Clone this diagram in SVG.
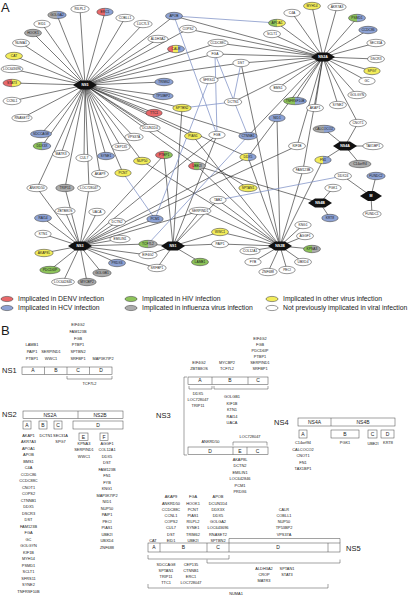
<svg xmlns="http://www.w3.org/2000/svg" width="409" height="596" viewBox="0 0 409 596">
<style>
text{font-family:"Liberation Sans",Arial,sans-serif;fill:#1a1a1a}
.e line{stroke:#1e1e1e;stroke-width:.6}
.e line.u{stroke:#7d90c6;stroke-width:.75}
.n ellipse{stroke:#333;stroke-width:.5}
.n text{font-size:3.3px;text-anchor:middle}
.h polygon{fill:#111}
.h text{font-size:3.6px;font-weight:bold;fill:#fff;text-anchor:middle}
.w{fill:#fff}.r{fill:#e8686a}.b{fill:#8da2d4}.g{fill:#8dc35a}.k{fill:#ababab}.y{fill:#f2ec5b}
.lg ellipse{stroke:#333;stroke-width:.5}
.lg text{font-size:6.8px}
.bx rect{fill:#fff;stroke:#444;stroke-width:.5}
.bx path{fill:none;stroke:#444;stroke-width:.5}
.bl{font-size:5px;text-anchor:middle}
.ns{font-size:7.5px}
.li{font-size:3.9px;text-anchor:middle}
.big{font-size:13px}
</style>
<defs>
<linearGradient id="g-kb"><stop offset=".5" stop-color="#ababab"/><stop offset=".5" stop-color="#8da2d4"/></linearGradient>
<linearGradient id="g-rb"><stop offset=".5" stop-color="#e8686a"/><stop offset=".5" stop-color="#8da2d4"/></linearGradient>
<linearGradient id="g-ry"><stop offset=".5" stop-color="#e8686a"/><stop offset=".5" stop-color="#f2ec5b"/></linearGradient>
<linearGradient id="g-gb"><stop offset=".5" stop-color="#8dc35a"/><stop offset=".5" stop-color="#8da2d4"/></linearGradient>
<linearGradient id="g-gy"><stop offset=".5" stop-color="#8dc35a"/><stop offset=".5" stop-color="#f2ec5b"/></linearGradient>
<linearGradient id="g-rg"><stop offset=".5" stop-color="#e8686a"/><stop offset=".5" stop-color="#8dc35a"/></linearGradient>
<linearGradient id="g-yb"><stop offset=".5" stop-color="#f2ec5b"/><stop offset=".5" stop-color="#8da2d4"/></linearGradient>
<linearGradient id="g-gk"><stop offset=".5" stop-color="#8dc35a"/><stop offset=".5" stop-color="#ababab"/></linearGradient>
<linearGradient id="g-ryb"><stop offset=".34" stop-color="#e8686a"/><stop offset=".34" stop-color="#f2ec5b"/><stop offset=".6" stop-color="#f2ec5b"/><stop offset=".6" stop-color="#8da2d4"/></linearGradient>
<linearGradient id="g-rgk"><stop offset=".34" stop-color="#e8686a"/><stop offset=".34" stop-color="#8dc35a"/><stop offset=".6" stop-color="#8dc35a"/><stop offset=".6" stop-color="#ababab"/></linearGradient>
</defs>
<rect width="409" height="596" fill="#fff"/>
<text x="1" y="12" class="big">A</text>
<text x="1" y="335" class="big">B</text>

<g id="connectors" class="e">
<line x1="85" y1="85" x2="57" y2="15"/><line x1="85" y1="85" x2="80" y2="9"/><line x1="85" y1="85" x2="105" y2="12"/><line x1="85" y1="85" x2="125" y2="18"/><line x1="85" y1="85" x2="143" y2="24"/><line x1="85" y1="85" x2="42" y2="24"/><line x1="85" y1="85" x2="33" y2="33"/><line x1="85" y1="85" x2="21" y2="43"/><line x1="85" y1="85" x2="14" y2="56"/><line x1="85" y1="85" x2="12" y2="69"/><line x1="85" y1="85" x2="12" y2="83"/><line x1="85" y1="85" x2="12" y2="101"/><line x1="85" y1="85" x2="22" y2="118"/><line x1="85" y1="85" x2="41" y2="134"/><line x1="85" y1="85" x2="42" y2="146"/><line x1="85" y1="85" x2="121" y2="147"/><line x1="85" y1="85" x2="134" y2="137"/><line x1="85" y1="85" x2="174" y2="16"/><line x1="85" y1="85" x2="188" y2="29"/><line x1="85" y1="85" x2="158" y2="39"/><line x1="85" y1="85" x2="176" y2="49"/><line x1="85" y1="85" x2="218" y2="43"/><line x1="85" y1="85" x2="215" y2="54"/><line x1="85" y1="85" x2="241" y2="63"/><line x1="85" y1="85" x2="164" y2="82"/><line x1="85" y1="85" x2="163" y2="96"/><line x1="85" y1="85" x2="182" y2="108"/><line x1="85" y1="85" x2="154" y2="113"/><line x1="85" y1="85" x2="150" y2="128"/><line x1="85" y1="85" x2="193" y2="136"/><line x1="85" y1="85" x2="248" y2="136"/><line x1="85" y1="85" x2="61" y2="154"/><line x1="85" y1="85" x2="84" y2="158"/><line x1="85" y1="85" x2="106" y2="156"/><line x1="85" y1="85" x2="142" y2="161"/><line x1="85" y1="85" x2="197" y2="166"/><line x1="85" y1="85" x2="248" y2="157"/><line x1="85" y1="85" x2="100" y2="174"/><line x1="85" y1="85" x2="123" y2="173"/><line x1="85" y1="85" x2="248" y2="188"/><line x1="85" y1="85" x2="37" y2="188"/><line x1="85" y1="85" x2="65" y2="188"/><line x1="85" y1="85" x2="89" y2="188"/>
<line x1="323" y1="57" x2="312" y2="6"/><line x1="323" y1="57" x2="337" y2="7"/><line x1="323" y1="57" x2="292" y2="13"/><line x1="323" y1="57" x2="277" y2="23"/><line x1="323" y1="57" x2="357" y2="18"/><line x1="323" y1="57" x2="368" y2="30"/><line x1="323" y1="57" x2="272" y2="34"/><line x1="323" y1="57" x2="376" y2="43"/><line x1="323" y1="57" x2="376" y2="59"/><line x1="323" y1="57" x2="372" y2="71"/><line x1="323" y1="57" x2="367" y2="81"/><line x1="323" y1="57" x2="278" y2="88"/><line x1="323" y1="57" x2="357" y2="95"/><line x1="323" y1="57" x2="295" y2="101"/><line x1="323" y1="57" x2="338" y2="105"/><line x1="323" y1="57" x2="315" y2="108"/><line x1="323" y1="57" x2="358" y2="123"/><line x1="323" y1="57" x2="297" y2="146"/><line x1="323" y1="57" x2="174" y2="16"/><line x1="323" y1="57" x2="188" y2="29"/><line x1="323" y1="57" x2="218" y2="43"/><line x1="323" y1="57" x2="215" y2="54"/><line x1="323" y1="57" x2="241" y2="63"/><line x1="323" y1="57" x2="248" y2="136"/><line x1="323" y1="57" x2="248" y2="157"/><line x1="323" y1="57" x2="233" y2="102"/><line x1="323" y1="57" x2="209" y2="80"/><line x1="323" y1="57" x2="303" y2="170"/>
<line x1="345" y1="146" x2="324" y2="129"/><line x1="345" y1="146" x2="358" y2="123"/><line x1="345" y1="146" x2="373" y2="146"/><line x1="345" y1="146" x2="323" y2="160"/><line x1="345" y1="146" x2="360" y2="164"/>
<line x1="371" y1="196" x2="343" y2="176"/><line x1="371" y1="196" x2="376" y2="176"/><line x1="371" y1="196" x2="372" y2="214"/>
<line x1="320" y1="203" x2="333" y2="188"/><line x1="320" y1="203" x2="330" y2="218"/><line x1="320" y1="203" x2="197" y2="166"/>
<line x1="80" y1="246" x2="37" y2="188"/><line x1="80" y1="246" x2="65" y2="188"/><line x1="80" y1="246" x2="89" y2="188"/><line x1="80" y1="246" x2="65" y2="211"/><line x1="80" y1="246" x2="97" y2="212"/><line x1="80" y1="246" x2="43" y2="218"/><line x1="80" y1="246" x2="117" y2="222"/><line x1="80" y1="246" x2="43" y2="234"/><line x1="80" y1="246" x2="120" y2="239"/><line x1="80" y1="246" x2="44" y2="253"/><line x1="80" y1="246" x2="50" y2="270"/><line x1="80" y1="246" x2="117" y2="263"/><line x1="80" y1="246" x2="102" y2="273"/><line x1="80" y1="246" x2="63" y2="282"/><line x1="80" y1="246" x2="87" y2="282"/><line x1="80" y1="246" x2="148" y2="255"/><line x1="80" y1="246" x2="148" y2="244"/><line x1="80" y1="246" x2="157" y2="268"/><line x1="80" y1="246" x2="155" y2="219"/><line x1="80" y1="246" x2="200" y2="211"/><line x1="80" y1="246" x2="164" y2="155"/><line x1="80" y1="246" x2="217" y2="135"/><line x1="80" y1="246" x2="248" y2="157"/><line x1="80" y1="246" x2="297" y2="146"/>
<line x1="173" y1="246" x2="148" y2="244"/><line x1="173" y1="246" x2="148" y2="255"/><line x1="173" y1="246" x2="157" y2="268"/><line x1="173" y1="246" x2="200" y2="262"/><line x1="173" y1="246" x2="220" y2="232"/><line x1="173" y1="246" x2="220" y2="244"/><line x1="173" y1="246" x2="200" y2="211"/><line x1="173" y1="246" x2="218" y2="200"/><line x1="173" y1="246" x2="164" y2="155"/><line x1="173" y1="246" x2="217" y2="135"/><line x1="173" y1="246" x2="182" y2="108"/>
<line x1="280" y1="246" x2="303" y2="225"/><line x1="280" y1="246" x2="305" y2="236"/><line x1="280" y1="246" x2="312" y2="249"/><line x1="280" y1="246" x2="303" y2="262"/><line x1="280" y1="246" x2="287" y2="270"/><line x1="280" y1="246" x2="268" y2="272"/><line x1="280" y1="246" x2="253" y2="262"/><line x1="280" y1="246" x2="250" y2="251"/><line x1="280" y1="246" x2="220" y2="244"/><line x1="280" y1="246" x2="220" y2="232"/><line x1="280" y1="246" x2="200" y2="211"/><line x1="280" y1="246" x2="218" y2="200"/><line x1="280" y1="246" x2="303" y2="170"/><line x1="280" y1="246" x2="323" y2="160"/><line x1="280" y1="246" x2="277" y2="118"/><line x1="280" y1="246" x2="197" y2="166"/><line x1="280" y1="246" x2="193" y2="136"/><line x1="280" y1="246" x2="142" y2="161"/><line x1="280" y1="246" x2="248" y2="157"/><line x1="280" y1="246" x2="241" y2="63"/>
<line class="u" x1="174" y1="16" x2="277" y2="23"/><line class="u" x1="174" y1="16" x2="217" y2="135"/><line class="u" x1="215" y1="54" x2="217" y2="135"/><line class="u" x1="215" y1="54" x2="248" y2="136"/><line class="u" x1="241" y1="63" x2="233" y2="102"/><line class="u" x1="233" y1="102" x2="182" y2="108"/><line class="u" x1="209" y1="80" x2="155" y2="219"/><line class="u" x1="248" y1="136" x2="148" y2="244"/><line class="u" x1="123" y1="173" x2="155" y2="219"/><line class="u" x1="343" y1="176" x2="218" y2="200"/>
</g>

<g id="hubs">
<g id="h-NS5" class="h"><polygon points="73,85 80,80.5 90,80.5 97,85 90,89.5 80,89.5"/><text x="85" y="86.3">NS5</text></g>
<g id="h-NS2A" class="h"><polygon points="311,57 318,52.5 328,52.5 335,57 328,61.5 318,61.5"/><text x="323" y="58.3">NS2A</text></g>
<g id="h-NS4A" class="h"><polygon points="333,146 340,141.5 350,141.5 357,146 350,150.5 340,150.5"/><text x="345" y="147.3">NS4A</text></g>
<g id="h-M" class="h"><polygon points="360,196 368,191 374,191 382,196 374,201 368,201"/><text x="371" y="197.3">M</text></g>
<g id="h-NS4B" class="h"><polygon points="308,203 315,198.5 325,198.5 332,203 325,207.5 315,207.5"/><text x="320" y="204.3">NS4B</text></g>
<g id="h-NS3" class="h"><polygon points="68,246 75,241.5 85,241.5 92,246 85,250.5 75,250.5"/><text x="80" y="247.3">NS3</text></g>
<g id="h-NS1" class="h"><polygon points="161,246 168,241.5 178,241.5 185,246 178,250.5 168,250.5"/><text x="173" y="247.3">NS1</text></g>
<g id="h-NS2B" class="h"><polygon points="268,246 275,241.5 285,241.5 292,246 285,250.5 275,250.5"/><text x="280" y="247.3">NS2B</text></g>
</g>

<g id="nodes">
<g id="n-GOLGA2" class="n"><ellipse cx="57" cy="15" rx="9.2" ry="3.7" fill="url(#g-kb)"/><text x="57" y="16.2">GOLGA2</text></g>
<g id="n-RILPL2" class="n"><ellipse cx="80" cy="9" rx="9.2" ry="3.7" class="w"/><text x="80" y="10.2">RILPL2</text></g>
<g id="n-ERC1" class="n"><ellipse cx="105" cy="12" rx="8.2" ry="3.7" fill="url(#g-rb)"/><text x="105" y="13.2">ERC1</text></g>
<g id="n-COBLL1" class="n"><ellipse cx="125" cy="18" rx="9.2" ry="3.7" class="w"/><text x="125" y="19.2">COBLL1</text></g>
<g id="n-LUC7L3" class="n"><ellipse cx="143" cy="24" rx="9.2" ry="3.7" class="w"/><text x="143" y="25.2">LUC7L3</text></g>
<g id="n-EID1" class="n"><ellipse cx="42" cy="24" rx="8.2" ry="3.7" class="w"/><text x="42" y="25.2">EID1</text></g>
<g id="n-HOOK1" class="n"><ellipse cx="33" cy="33" rx="8.5" ry="3.7" class="k"/><text x="33" y="34.2">HOOK1</text></g>
<g id="n-NUMA1" class="n"><ellipse cx="21" cy="43" rx="8.5" ry="3.7" class="w"/><text x="21" y="44.2">NUMA1</text></g>
<g id="n-CAT" class="n"><ellipse cx="14" cy="56" rx="8.5" ry="3.7" class="y"/><text x="14" y="57.2">CAT</text></g>
<g id="n-LOC643696" class="n"><ellipse cx="12" cy="69" rx="11" ry="3.7" class="w"/><text x="12" y="70.2">LOC643696</text></g>
<g id="n-STAT3" class="n"><ellipse cx="12" cy="83" rx="9" ry="3.7" fill="url(#g-ry)"/><text x="12" y="84.2">STAT3</text></g>
<g id="n-CCNL1" class="n"><ellipse cx="12" cy="101" rx="9" ry="3.7" class="w"/><text x="12" y="102.2">CCNL1</text></g>
<g id="n-RNASET2" class="n"><ellipse cx="22" cy="118" rx="10.2" ry="3.7" class="w"/><text x="22" y="119.2">RNASET2</text></g>
<g id="n-SDCCAG8" class="n"><ellipse cx="41" cy="134" rx="10.5" ry="3.7" class="b"/><text x="41" y="135.2">SDCCAG8</text></g>
<g id="n-DDX3X" class="n"><ellipse cx="42" cy="146" rx="8.8" ry="3.7" fill="url(#g-gb)"/><text x="42" y="147.2">DDX3X</text></g>
<g id="n-CEP135" class="n"><ellipse cx="121" cy="147" rx="9.2" ry="3.7" class="w"/><text x="121" y="148.2">CEP135</text></g>
<g id="n-VPS37A" class="n"><ellipse cx="134" cy="137" rx="9.2" ry="3.7" class="w"/><text x="134" y="138.2">VPS37A</text></g>
<g id="n-APOB" class="n"><ellipse cx="174" cy="16" rx="8.5" ry="3.7" class="b"/><text x="174" y="17.2">APOB</text></g>
<g id="n-COPS2" class="n"><ellipse cx="188" cy="29" rx="8.5" ry="3.7" class="w"/><text x="188" y="30.2">COPS2</text></g>
<g id="n-ALDH3A2" class="n"><ellipse cx="158" cy="39" rx="10.2" ry="3.7" class="w"/><text x="158" y="40.2">ALDH3A2</text></g>
<g id="n-CALR" class="n"><ellipse cx="176" cy="49" rx="8.5" ry="3.7" fill="url(#g-ryb)"/><text x="176" y="50.2">CALR</text></g>
<g id="n-CCDC88C" class="n"><ellipse cx="218" cy="43" rx="10.2" ry="3.7" class="w"/><text x="218" y="44.2">CCDC88C</text></g>
<g id="n-FGA" class="n"><ellipse cx="215" cy="54" rx="8.2" ry="3.7" class="w"/><text x="215" y="55.2">FGA</text></g>
<g id="n-DST" class="n"><ellipse cx="241" cy="63" rx="8.2" ry="3.7" class="w"/><text x="241" y="64.2">DST</text></g>
<g id="n-TRIM62" class="n"><ellipse cx="164" cy="82" rx="9.2" ry="3.7" class="b"/><text x="164" y="83.2">TRIM62</text></g>
<g id="n-SFRS11" class="n"><ellipse cx="209" cy="80" rx="9.2" ry="3.7" class="w"/><text x="209" y="81.2">SFRS11</text></g>
<g id="n-TP53BP2" class="n"><ellipse cx="163" cy="96" rx="10.2" ry="3.7" class="b"/><text x="163" y="97.2">TP53BP2</text></g>
<g id="n-DCTN1" class="n"><ellipse cx="233" cy="102" rx="8.8" ry="3.7" class="w"/><text x="233" y="103.2">DCTN1</text></g>
<g id="n-SPTBN2" class="n"><ellipse cx="182" cy="108" rx="9.2" ry="3.7" class="y"/><text x="182" y="109.2">SPTBN2</text></g>
<g id="n-TTC1" class="n"><ellipse cx="154" cy="113" rx="8.2" ry="3.7" class="r"/><text x="154" y="114.2">TTC1</text></g>
<g id="n-DCUN1D4" class="n"><ellipse cx="150" cy="128" rx="10.2" ry="3.7" class="w"/><text x="150" y="129.2">DCUN1D4</text></g>
<g id="n-PIAS1" class="n"><ellipse cx="193" cy="136" rx="8.5" ry="3.7" class="y"/><text x="193" y="137.2">PIAS1</text></g>
<g id="n-FGB" class="n"><ellipse cx="217" cy="135" rx="8.2" ry="3.7" class="w"/><text x="217" y="136.2">FGB</text></g>
<g id="n-CTNNB1" class="n"><ellipse cx="248" cy="136" rx="9.2" ry="3.7" class="b"/><text x="248" y="137.2">CTNNB1</text></g>
<g id="n-NID1" class="n"><ellipse cx="277" cy="118" rx="8.2" ry="3.7" class="b"/><text x="277" y="119.2">NID1</text></g>
<g id="n-MYH14" class="n"><ellipse cx="312" cy="6" rx="8.5" ry="3.7" class="y"/><text x="312" y="7.2">MYH14</text></g>
<g id="n-AKR7A3" class="n"><ellipse cx="337" cy="7" rx="9.2" ry="3.7" class="w"/><text x="337" y="8.2">AKR7A3</text></g>
<g id="n-C4A" class="n"><ellipse cx="292" cy="13" rx="8.2" ry="3.7" class="w"/><text x="292" y="14.2">C4A</text></g>
<g id="n-APOA1" class="n"><ellipse cx="277" cy="23" rx="8.5" ry="3.7" fill="url(#g-gy)"/><text x="277" y="24.2">APOA1</text></g>
<g id="n-PSMD1" class="n"><ellipse cx="357" cy="18" rx="8.5" ry="3.7" fill="url(#g-gb)"/><text x="357" y="19.2">PSMD1</text></g>
<g id="n-CCDC86" class="n"><ellipse cx="368" cy="30" rx="9.2" ry="3.7" class="b"/><text x="368" y="31.2">CCDC86</text></g>
<g id="n-SCLT1" class="n"><ellipse cx="272" cy="34" rx="8.5" ry="3.7" class="w"/><text x="272" y="35.2">SCLT1</text></g>
<g id="n-SEC31A" class="n"><ellipse cx="376" cy="43" rx="9.2" ry="3.7" class="w"/><text x="376" y="44.2">SEC31A</text></g>
<g id="n-DSCR3" class="n"><ellipse cx="376" cy="59" rx="8.5" ry="3.7" class="w"/><text x="376" y="60.2">DSCR3</text></g>
<g id="n-SPG7" class="n"><ellipse cx="372" cy="71" rx="8.2" ry="3.7" class="y"/><text x="372" y="72.2">SPG7</text></g>
<g id="n-GC" class="n"><ellipse cx="367" cy="81" rx="8.2" ry="3.7" class="w"/><text x="367" y="82.2">GC</text></g>
<g id="n-BMS1" class="n"><ellipse cx="278" cy="88" rx="8.2" ry="3.7" class="w"/><text x="278" y="89.2">BMS1</text></g>
<g id="n-GOLGYN" class="n"><ellipse cx="357" cy="95" rx="9.2" ry="3.7" class="w"/><text x="357" y="96.2">GOLGYN</text></g>
<g id="n-TNFRSF10B" class="n"><ellipse cx="295" cy="101" rx="11.5" ry="3.7" fill="url(#g-gb)"/><text x="295" y="102.2">TNFRSF10B</text></g>
<g id="n-SYNE2" class="n"><ellipse cx="338" cy="105" rx="8.5" ry="3.7" class="w"/><text x="338" y="106.2">SYNE2</text></g>
<g id="n-AKAP1" class="n"><ellipse cx="315" cy="108" rx="8.5" ry="3.7" class="w"/><text x="315" y="109.2">AKAP1</text></g>
<g id="n-CNOT1" class="n"><ellipse cx="358" cy="123" rx="8.5" ry="3.7" class="w"/><text x="358" y="124.2">CNOT1</text></g>
<g id="n-CALCOCO2" class="n"><ellipse cx="324" cy="129" rx="11" ry="3.7" fill="url(#g-kb)"/><text x="324" y="130.2">CALCOCO2</text></g>
<g id="n-KIF1B" class="n"><ellipse cx="297" cy="146" rx="8.5" ry="3.7" class="w"/><text x="297" y="147.2">KIF1B</text></g>
<g id="n-TAX1BP1" class="n"><ellipse cx="373" cy="146" rx="10.2" ry="3.7" class="w"/><text x="373" y="147.2">TAX1BP1</text></g>
<g id="n-MATR3" class="n"><ellipse cx="61" cy="154" rx="8.5" ry="3.7" class="w"/><text x="61" y="155.2">MATR3</text></g>
<g id="n-CUL7" class="n"><ellipse cx="84" cy="158" rx="8.2" ry="3.7" class="w"/><text x="84" y="159.2">CUL7</text></g>
<g id="n-SYNE1" class="n"><ellipse cx="106" cy="156" rx="8.5" ry="3.7" class="b"/><text x="106" y="157.2">SYNE1</text></g>
<g id="n-NUP50" class="n"><ellipse cx="142" cy="161" rx="8.5" ry="3.7" class="y"/><text x="142" y="162.2">NUP50</text></g>
<g id="n-PTBP1" class="n"><ellipse cx="164" cy="155" rx="8.5" ry="3.7" fill="url(#g-rg)"/><text x="164" y="156.2">PTBP1</text></g>
<g id="n-UBE2I" class="n"><ellipse cx="197" cy="166" rx="8.5" ry="3.7" fill="url(#g-rgk)"/><text x="197" y="167.2">UBE2I</text></g>
<g id="n-DDX5" class="n"><ellipse cx="248" cy="157" rx="8.2" ry="3.7" fill="url(#g-yb)"/><text x="248" y="158.2">DDX5</text></g>
<g id="n-AKAP9" class="n"><ellipse cx="100" cy="174" rx="8.5" ry="3.7" class="w"/><text x="100" y="175.2">AKAP9</text></g>
<g id="n-PCNT" class="n"><ellipse cx="123" cy="173" rx="8.2" ry="3.7" class="y"/><text x="123" y="174.2">PCNT</text></g>
<g id="n-SPTAN1" class="n"><ellipse cx="248" cy="188" rx="9.2" ry="3.7" class="y"/><text x="248" y="189.2">SPTAN1</text></g>
<g id="n-TAB2" class="n"><ellipse cx="218" cy="200" rx="8.2" ry="3.7" class="w"/><text x="218" y="201.2">TAB2</text></g>
<g id="n-SERPIND1" class="n"><ellipse cx="200" cy="211" rx="11" ry="3.7" class="w"/><text x="200" y="212.2">SERPIND1</text></g>
<g id="n-PCM1" class="n"><ellipse cx="155" cy="219" rx="8.2" ry="3.7" class="b"/><text x="155" y="220.2">PCM1</text></g>
<g id="n-WWC1" class="n"><ellipse cx="220" cy="232" rx="8.5" ry="3.7" class="y"/><text x="220" y="233.2">WWC1</text></g>
<g id="n-TCF7L2" class="n"><ellipse cx="148" cy="244" rx="9.2" ry="3.7" fill="url(#g-gk)"/><text x="148" y="245.2">TCF7L2</text></g>
<g id="n-PAIP1" class="n"><ellipse cx="220" cy="244" rx="8.5" ry="3.7" class="w"/><text x="220" y="245.2">PAIP1</text></g>
<g id="n-EIF4G2" class="n"><ellipse cx="148" cy="255" rx="9.2" ry="3.7" class="w"/><text x="148" y="256.2">EIF4G2</text></g>
<g id="n-COL12A1" class="n"><ellipse cx="250" cy="251" rx="10.2" ry="3.7" class="w"/><text x="250" y="252.2">COL12A1</text></g>
<g id="n-LAMB1" class="n"><ellipse cx="200" cy="262" rx="8.5" ry="3.7" class="g"/><text x="200" y="263.2">LAMB1</text></g>
<g id="n-SRFBP1" class="n"><ellipse cx="157" cy="268" rx="9.2" ry="3.7" class="w"/><text x="157" y="269.2">SRFBP1</text></g>
<g id="n-FYB" class="n"><ellipse cx="253" cy="262" rx="8.2" ry="3.7" class="w"/><text x="253" y="263.2">FYB</text></g>
<g id="n-ZNF688" class="n"><ellipse cx="268" cy="272" rx="9.2" ry="3.7" class="w"/><text x="268" y="273.2">ZNF688</text></g>
<g id="n-ANKRD50" class="n"><ellipse cx="37" cy="188" rx="10.2" ry="3.7" class="w"/><text x="37" y="189.2">ANKRD50</text></g>
<g id="n-TRIP11" class="n"><ellipse cx="65" cy="188" rx="9.2" ry="3.7" class="k"/><text x="65" y="189.2">TRIP11</text></g>
<g id="n-LOC728047" class="n"><ellipse cx="89" cy="188" rx="11.5" ry="3.7" class="w"/><text x="89" y="189.2">LOC728047</text></g>
<g id="n-ZBTB8OS" class="n"><ellipse cx="65" cy="211" rx="10.2" ry="3.7" class="w"/><text x="65" y="212.2">ZBTB8OS</text></g>
<g id="n-UACA" class="n"><ellipse cx="97" cy="212" rx="8.2" ry="3.7" class="w"/><text x="97" y="213.2">UACA</text></g>
<g id="n-RAI14" class="n"><ellipse cx="43" cy="218" rx="8.5" ry="3.7" class="b"/><text x="43" y="219.2">RAI14</text></g>
<g id="n-DCTN2" class="n"><ellipse cx="117" cy="222" rx="8.5" ry="3.7" class="w"/><text x="117" y="223.2">DCTN2</text></g>
<g id="n-KTN1" class="n"><ellipse cx="43" cy="234" rx="8.2" ry="3.7" class="w"/><text x="43" y="235.2">KTN1</text></g>
<g id="n-EMILIN1" class="n"><ellipse cx="120" cy="239" rx="10.2" ry="3.7" class="w"/><text x="120" y="240.2">EMILIN1</text></g>
<g id="n-AKAP8L" class="n"><ellipse cx="44" cy="253" rx="9.2" ry="3.7" class="y"/><text x="44" y="254.2">AKAP8L</text></g>
<g id="n-PDCD6IP" class="n"><ellipse cx="50" cy="270" rx="10.2" ry="3.7" class="g"/><text x="50" y="271.2">PDCD6IP</text></g>
<g id="n-PRDX6" class="n"><ellipse cx="117" cy="263" rx="8.5" ry="3.7" class="b"/><text x="117" y="264.2">PRDX6</text></g>
<g id="n-GOLGB1" class="n"><ellipse cx="102" cy="273" rx="9.2" ry="3.7" class="k"/><text x="102" y="274.2">GOLGB1</text></g>
<g id="n-LOC642846" class="n"><ellipse cx="63" cy="282" rx="11.5" ry="3.7" class="w"/><text x="63" y="283.2">LOC642846</text></g>
<g id="n-MYCBP2" class="n"><ellipse cx="87" cy="282" rx="9.2" ry="3.7" class="k"/><text x="87" y="283.2">MYCBP2</text></g>
<g id="n-FN1" class="n"><ellipse cx="323" cy="160" rx="8.2" ry="3.7" fill="url(#g-yb)"/><text x="323" y="161.2">FN1</text></g>
<g id="n-C14orf94" class="n"><ellipse cx="360" cy="164" rx="11" ry="3.7" class="k"/><text x="360" y="165.2">C14orf94</text></g>
<g id="n-FAM123B" class="n"><ellipse cx="303" cy="170" rx="10.2" ry="3.7" class="w"/><text x="303" y="171.2">FAM123B</text></g>
<g id="n-DDX24" class="n"><ellipse cx="343" cy="176" rx="8.5" ry="3.7" class="w"/><text x="343" y="177.2">DDX24</text></g>
<g id="n-FUNDC2" class="n"><ellipse cx="376" cy="176" rx="9.2" ry="3.7" class="b"/><text x="376" y="177.2">FUNDC2</text></g>
<g id="n-PGK1" class="n"><ellipse cx="333" cy="188" rx="8.2" ry="3.7" class="w"/><text x="333" y="189.2">PGK1</text></g>
<g id="n-FUNDC1" class="n"><ellipse cx="372" cy="214" rx="9.2" ry="3.7" class="w"/><text x="372" y="215.2">FUNDC1</text></g>
<g id="n-KRT8" class="n"><ellipse cx="330" cy="218" rx="8.2" ry="3.7" class="b"/><text x="330" y="219.2">KRT8</text></g>
<g id="n-KNG1" class="n"><ellipse cx="303" cy="225" rx="8.2" ry="3.7" class="w"/><text x="303" y="226.2">KNG1</text></g>
<g id="n-AGGF1" class="n"><ellipse cx="305" cy="236" rx="8.5" ry="3.7" class="w"/><text x="305" y="237.2">AGGF1</text></g>
<g id="n-KPNA3" class="n"><ellipse cx="312" cy="249" rx="8.5" ry="3.7" fill="url(#g-gk)"/><text x="312" y="250.2">KPNA3</text></g>
<g id="n-UBXD4" class="n"><ellipse cx="303" cy="262" rx="8.5" ry="3.7" class="w"/><text x="303" y="263.2">UBXD4</text></g>
<g id="n-PECI" class="n"><ellipse cx="287" cy="270" rx="8.2" ry="3.7" class="w"/><text x="287" y="271.2">PECI</text></g>
</g>

<g id="legend" class="lg">
<ellipse cx="7" cy="299" rx="6" ry="2.6" class="r"/><text x="18" y="301.4">Implicated in DENV infection</text>
<ellipse cx="7" cy="308" rx="6" ry="2.6" class="b"/><text x="18" y="310.4">Implicated in HCV infection</text>
<ellipse cx="131" cy="299" rx="6" ry="2.6" class="g"/><text x="142" y="301.4">Implicated in HIV infection</text>
<ellipse cx="131" cy="308" rx="6" ry="2.6" class="k"/><text x="142" y="310.4">Implicated in influenza virus infection</text>
<ellipse cx="272" cy="299" rx="6" ry="2.6" class="y"/><text x="283" y="301.4">Implicated in other virus infection</text>
<ellipse cx="272" cy="308" rx="6" ry="2.6" class="w"/><text x="283" y="310.4">Not previously implicated in viral infection</text>
</g>

<g id="b-NS1" class="bx">
<text x="2" y="373.3" class="ns">NS1</text>
<rect x="22" y="367" width="90" height="7.3"/><path d="M44.5 367V374.3M67 367V374.3M89.5 367V374.3"/>
<text x="33" y="372.4" class="bl">A</text><text x="56" y="372.4" class="bl">B</text><text x="78" y="372.4" class="bl">C</text><text x="101" y="372.4" class="bl">D</text>
<path d="M67 376V379H112V376"/><text x="89.5" y="385.4" class="li">TCF7L2</text>
<text x="32" y="346.4" class="li">LAMB1</text><text x="32" y="353" class="li">PAIP1</text><text x="32" y="359.7" class="li">PTBP1</text>
<text x="51" y="353" class="li">SERPIND1</text><text x="51" y="359.7" class="li">WWC1</text>
<text x="78" y="326.4" class="li">EIF4G2</text><text x="78" y="333" class="li">FAM123B</text><text x="78" y="339.7" class="li">FGB</text><text x="78" y="346.4" class="li">PTBP1</text><text x="78" y="353" class="li">SPTBN2</text><text x="78" y="359.7" class="li">SRFBP1</text>
<text x="103" y="359.7" class="li">MAP3K7IP2</text>
</g>

<g id="b-NS2" class="bx">
<text x="2" y="417.3" class="ns">NS2</text>
<rect x="23" y="411" width="100" height="7.3"/><path d="M78 411V418.3"/>
<text x="50" y="416.5" class="bl">NS2A</text><text x="100" y="416.5" class="bl">NS2B</text>
<rect x="23" y="421" width="8" height="8"/><rect x="39" y="421" width="8" height="8"/><rect x="54" y="421" width="8" height="8"/><rect x="73" y="421" width="50" height="8"/>
<text x="27" y="426.8" class="bl">A</text><text x="43" y="426.8" class="bl">B</text><text x="58" y="426.8" class="bl">C</text><text x="98" y="426.8" class="bl">D</text>
<rect x="79" y="433" width="9" height="7.3"/><rect x="100" y="433" width="8" height="7.3"/>
<text x="83.5" y="438.5" class="bl">E</text><text x="104" y="438.5" class="bl">F</text>
<text x="28.5" y="436.9" class="li">AKAP1</text><text x="28.5" y="443.4" class="li">AKR7A3</text><text x="28.5" y="449.9" class="li">APOA1</text><text x="28.5" y="456.4" class="li">APOB</text><text x="28.5" y="462.9" class="li">BMS1</text><text x="28.5" y="469.4" class="li">C4A</text><text x="28.5" y="475.9" class="li">CCDC86</text><text x="28.5" y="482.4" class="li">CCDC88C</text><text x="28.5" y="488.9" class="li">CNOT1</text><text x="28.5" y="495.4" class="li">COPS2</text><text x="28.5" y="501.9" class="li">CTNNB1</text><text x="28.5" y="508.4" class="li">DDX5</text><text x="28.5" y="514.9" class="li">DSCR3</text><text x="28.5" y="521.4" class="li">DST</text><text x="28.5" y="527.9" class="li">FAM123B</text><text x="28.5" y="534.4" class="li">FGA</text><text x="28.5" y="540.9" class="li">GC</text><text x="28.5" y="547.4" class="li">GOLGYN</text><text x="28.5" y="553.9" class="li">KIF1B</text><text x="28.5" y="560.4" class="li">MYH14</text><text x="28.5" y="566.9" class="li">PSMD1</text><text x="28.5" y="573.4" class="li">SCLT1</text><text x="28.5" y="579.9" class="li">SFRS11</text><text x="28.5" y="586.4" class="li">SYNE2</text><text x="28.5" y="592.9" class="li">TNFRSF10B</text>
<text x="46" y="436.9" class="li">DCTN1</text>
<text x="60.5" y="436.9" class="li">SEC31A</text><text x="60.5" y="443.4" class="li">SPG7</text>
<text x="84" y="444.9" class="li">KPNA3</text><text x="84" y="451.4" class="li">SERPIND1</text><text x="84" y="457.9" class="li">WWC1</text>
<text x="107" y="444.9" class="li">AGGF1</text><text x="107" y="451.4" class="li">COL12A1</text><text x="107" y="457.9" class="li">DDX5</text><text x="107" y="464.4" class="li">DST</text><text x="107" y="470.9" class="li">FAM123B</text><text x="107" y="477.4" class="li">FN1</text><text x="107" y="483.9" class="li">FYB</text><text x="107" y="490.4" class="li">KNG1</text><text x="107" y="496.9" class="li">MAP3K7IP2</text><text x="107" y="503.4" class="li">NID1</text><text x="107" y="509.9" class="li">NUP50</text><text x="107" y="516.4" class="li">PAIP1</text><text x="107" y="522.9" class="li">PECI</text><text x="107" y="529.4" class="li">PIAS1</text><text x="107" y="535.9" class="li">UBE2I</text><text x="107" y="542.4" class="li">UBXD4</text><text x="107" y="548.9" class="li">ZNF688</text>
</g>

<g id="b-NS3" class="bx">
<text x="156" y="417.8" class="ns">NS3</text>
<path d="M187 377H184V455H187"/>
<rect x="188" y="377" width="80" height="7.3"/><path d="M212 377V384.3M248 377V384.3"/>
<text x="200" y="382.4" class="bl">A</text><text x="230" y="382.4" class="bl">B</text><text x="258" y="382.4" class="bl">C</text>
<text x="199" y="363.9" class="li">EIF4G2</text><text x="199" y="369.9" class="li">ZBTB8OS</text>
<text x="227" y="363.9" class="li">MYCBP2</text><text x="227" y="369.9" class="li">TCF7L2</text>
<text x="260" y="339.9" class="li">EIF4G2</text><text x="260" y="345.9" class="li">FGB</text><text x="260" y="351.9" class="li">PDCD6IP</text><text x="260" y="357.9" class="li">PTBP1</text><text x="260" y="363.9" class="li">SERPIND1</text><text x="260" y="369.9" class="li">SRFBP1</text>
<path d="M189 386V389H212V386M214 386V389H268V386"/>
<text x="198" y="394.9" class="li">DDX5</text><text x="198" y="400.9" class="li">LOC728047</text><text x="198" y="406.9" class="li">TRIP11</text>
<text x="232" y="398.4" class="li">GOLGB1</text><text x="232" y="404.9" class="li">KIF1B</text><text x="232" y="411.4" class="li">KTN1</text><text x="232" y="417.9" class="li">RAI14</text><text x="232" y="424.4" class="li">UACA</text>
<rect x="188" y="447" width="80" height="7.5"/><path d="M233 447V454.5M247 447V454.5"/>
<text x="210" y="452.6" class="bl">D</text><text x="240" y="452.6" class="bl">E</text><text x="257.5" y="452.6" class="bl">C</text>
<text x="210.5" y="443.4" class="li">ANKRD50</text>
<path d="M233 445.5V442H267V445.5"/><text x="250" y="437.9" class="li">LOC728047</text>
<text x="240" y="460.9" class="li">AKAP8L</text><text x="240" y="467.4" class="li">DCTN2</text><text x="240" y="473.9" class="li">EMILIN1</text><text x="240" y="480.4" class="li">LOC642846</text><text x="240" y="486.9" class="li">PCM1</text><text x="240" y="493.4" class="li">PRDX6</text>
</g>

<g id="b-NS4" class="bx">
<text x="274" y="424.8" class="ns">NS4</text>
<rect x="298" y="418" width="97" height="8"/><path d="M331 418V426"/>
<text x="314.5" y="423.8" class="bl">NS4A</text><text x="363" y="423.8" class="bl">NS4B</text>
<rect x="299" y="430" width="8" height="8"/><rect x="331" y="430" width="28" height="8"/><rect x="368" y="430" width="9" height="8"/><rect x="381" y="430" width="13" height="8"/>
<text x="303" y="435.8" class="bl">A</text><text x="345" y="435.8" class="bl">B</text><text x="372.5" y="435.8" class="bl">C</text><text x="387.5" y="435.8" class="bl">D</text>
<text x="303" y="444.4" class="li">C14orf94</text><text x="303" y="450.9" class="li">CALCOCO2</text><text x="303" y="457.4" class="li">CNOT1</text><text x="303" y="463.9" class="li">FN1</text><text x="303" y="470.4" class="li">TAX1BP1</text>
<text x="345" y="444.4" class="li">PGK1</text><text x="373" y="445" class="li">UBE2I</text><text x="388" y="444.4" class="li">KRT8</text>
</g>

<g id="b-NS5" class="bx">
<rect x="148" y="543" width="192" height="9"/><path d="M160 543V552M207 543V552M229 543V552M328 543V552"/>
<text x="154" y="549.3" class="bl">A</text><text x="183.5" y="549.3" class="bl">B</text><text x="218" y="549.3" class="bl">C</text><text x="278" y="549.3" class="bl">D</text>
<text x="346" y="550.8" class="ns">NS5</text>
<text x="153" y="541.8" class="li">CAT</text>
<text x="171" y="498.4" class="li">AKAP9</text><text x="171" y="504.6" class="li">ANKRD50</text><text x="171" y="510.8" class="li">CCDC88C</text><text x="171" y="517" class="li">CCNL1</text><text x="171" y="523.2" class="li">COPS2</text><text x="171" y="529.4" class="li">CUL7</text><text x="171" y="535.6" class="li">DST</text><text x="171" y="541.8" class="li">EID1</text>
<text x="193" y="498.4" class="li">FGA</text><text x="193" y="504.6" class="li">HOOK1</text><text x="193" y="510.8" class="li">PCNT</text><text x="193" y="517" class="li">PIAS1</text><text x="193" y="523.2" class="li">RILPL2</text><text x="193" y="529.4" class="li">SYNE1</text><text x="193" y="535.6" class="li">TRIM62</text><text x="193" y="541.8" class="li">UBE2I</text>
<text x="218" y="498.4" class="li">APOB</text><text x="218" y="504.6" class="li">DCUN1D4</text><text x="218" y="510.8" class="li">DDX3X</text><text x="218" y="517" class="li">DDX5</text><text x="218" y="523.2" class="li">GOLGA2</text><text x="218" y="529.4" class="li">LOC643696</text><text x="218" y="535.6" class="li">RNASET2</text><text x="218" y="541.8" class="li">SPTBN2</text>
<text x="284" y="510.8" class="li">CALR</text><text x="284" y="517" class="li">COBLL1</text><text x="284" y="523.2" class="li">NUP50</text><text x="284" y="529.4" class="li">TP53BP2</text><text x="284" y="535.6" class="li">VPS37A</text>
<path d="M229 543V538.5H340V543"/>
<path d="M148 555V559H229V555"/>
<text x="166" y="565.9" class="li">SDCCAG8</text><text x="166" y="571.9" class="li">SPTAN1</text><text x="166" y="577.9" class="li">TRIP11</text><text x="166" y="583.9" class="li">TTC1</text>
<text x="191" y="565.9" class="li">CEP135</text><text x="191" y="571.9" class="li">CTNNB1</text><text x="191" y="577.9" class="li">ERC1</text><text x="191" y="583.9" class="li">LOC728047</text>
<path d="M207 559.5V563H340V559.5"/>
<text x="264" y="570.4" class="li">ALDH3A2</text><text x="264" y="576.4" class="li">CROP</text><text x="264" y="582.4" class="li">MATR3</text>
<text x="287" y="570.4" class="li">SPTAN1</text><text x="287" y="576.4" class="li">STAT3</text>
<path d="M148 584V588H328V584"/>
<text x="236" y="594.5" class="li">NUMA1</text>
</g>
</svg>
